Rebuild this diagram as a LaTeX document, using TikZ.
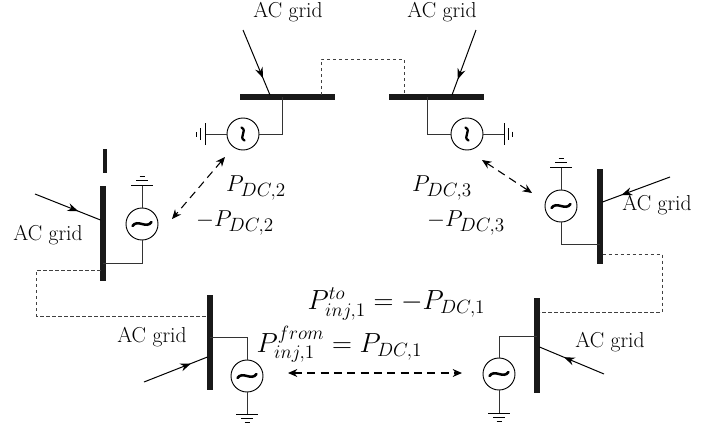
\documentclass[tikz,border=0pt]{standalone}
\usetikzlibrary{arrows.meta,decorations.markings}
\tikzset{
  bushbar/.style={draw=none,fill=black!90,inner sep=0pt,minimum width=95pt*0.75,minimum height=5.5pt*0.75},
  busvbar/.style={draw=none,fill=black!90,inner sep=0pt,minimum height=95pt*0.75,minimum width=5.5pt*0.75},
  source/.style={circle,draw=black,line width=0.7pt,fill=white,minimum size=32pt*0.75,inner sep=0pt},
  wire/.style={line width=0.75pt,draw=black!80},
  tie/.style={line width=0.6pt,draw=black!75,dash pattern=on 2.6pt off 1.9pt},
  flow/.style={line width=0.8pt,dash pattern=on 6pt off 4pt,{Stealth[length=7pt,width=6pt]}-{Stealth[length=7pt,width=6pt]}},
  feed/.style={line width=0.75pt,postaction={decorate},decoration={markings,mark=at position #1 with {\arrow{Stealth[length=8pt,width=6pt]}}}},
  lab/.style={inner sep=0pt,font=\fontsize{16.2}{18}\selectfont},
  mlab/.style={inner sep=0pt,font=\fontsize{19}{22}\selectfont},
  mlabb/.style={inner sep=0pt,font=\fontsize{19.8}{22}\selectfont},
  earth/.pic={
    \draw[line width=0.7pt] (-11,0)--(11,0);
    \draw[line width=0.6pt] (-6,-4.5)--(6,-4.5);
    \draw[line width=0.6pt] (-2.5,-8.5)--(2.5,-8.5);
  },
  wavebig/.pic={
    \draw[line width=1.9pt,line cap=round] (-9.5,2) .. controls (-4.5,-5.5) and (4.5,5.5) .. (9.5,-2);
  },
  wavesmall/.pic={
    \draw[line width=1.7pt,line cap=round] (-6.5,1.5) .. controls (-3,-5) and (3,5) .. (6.5,-1.5);
  }
}
\begin{document}
\begin{tikzpicture}[x=0.75pt,y=-0.75pt]
\useasboundingbox (0,0) rectangle (719,429);
% buses
\node[bushbar] (busA) at (287.5,97) {};
\node[bushbar] (busB) at (436.5,97) {};
\node[busvbar] (busC) at (103,233) {};
\node[busvbar] (busD) at (600,216) {};
\node[busvbar] (busE) at (210,342) {};
\node[busvbar] (busF) at (537,345) {};
\node[fill=black!90,inner sep=0pt,minimum width=2.6pt,minimum height=18pt] (stub) at (105,161) {};
% sources
\node[source] (srcA) at (243,134) {};
\node[source] (srcB) at (467,134) {};
\node[source] (srcC) at (142,224) {};
\node[source] (srcD) at (561,206) {};
\node[source] (srcE) at (247,376) {};
\node[source] (srcF) at (499,374) {};
\pic[rotate=90] at (srcA) {wavesmall};
\pic[rotate=90] at (srcB) {wavesmall};
\pic at (srcC) {wavebig};
\pic at (srcD) {wavebig};
\pic at (srcE) {wavebig};
\pic at (srcF) {wavebig};
% grounds
\coordinate (gA) at (205,134); \coordinate (gB) at (504,134);
\coordinate (gC) at (142,185); \coordinate (gD) at (561,167);
\coordinate (gE) at (247,414); \coordinate (gF) at (499,413);
\draw[wire] (srcA) -- (gA); \pic[rotate=90] at (gA) {earth};
\draw[wire] (srcB) -- (gB); \pic[rotate=-90] at (gB) {earth};
\draw[wire] (srcC) -- (gC); \pic at (gC) {earth};
\draw[wire] (srcD) -- (gD); \pic at (gD) {earth};
\draw[wire] (srcE) -- (gE); \pic[yscale=-1] at (gE) {earth};
\draw[wire] (srcF) -- (gF); \pic[yscale=-1] at (gF) {earth};
% bus to source
\coordinate (wA) at (282,97); \coordinate (wB) at (427,97);
\coordinate (wC) at (103,263); \coordinate (wD) at (600,244);
\coordinate (wE) at (210,337); \coordinate (wF) at (537,336);
\draw[wire] (wA) |- (srcA);
\draw[wire] (wB) |- (srcB);
\draw[wire] (wC) -| (srcC);
\draw[wire] (wD) -| (srcD);
\draw[wire] (wE) -| (srcE);
\draw[wire] (wF) -| (srcF);
% DC ties
\coordinate (tA) at (321,95); \coordinate (tB) at (404,95);
\coordinate (tC) at (100.5,270); \coordinate (tE) at (207.5,316);
\coordinate (tD) at (602.5,254); \coordinate (tF) at (539.5,312);
\draw[tie] (tA) -- (321,59) -- (404,59) -- (tB);
\draw[tie] (tC) -- (36.5,270) -- (36.5,316) -- (tE);
\draw[tie] (tD) -- (662,254) -- (662,312) -- (tF);
% AC feeders
\coordinate (aA) at (243,30); \coordinate (bA) at (270,95);
\coordinate (aB) at (476,30); \coordinate (bB) at (452,95);
\coordinate (aC) at (35,194); \coordinate (bC) at (100.5,220);
\coordinate (aD) at (670,177); \coordinate (bD) at (602.5,202);
\coordinate (aE) at (144,382); \coordinate (bE) at (207.5,357);
\coordinate (aF) at (604,374); \coordinate (bF) at (539.5,347);
\draw[feed=0.74] (aA) -- (bA);
\draw[feed=0.76] (aB) -- (bB);
\draw[feed=0.66] (aC) -- (bC);
\draw[feed=0.72] (aD) -- (bD);
\draw[feed=0.74] (aE) -- (bE);
\draw[feed=0.62] (aF) -- (bF);
% power-flow arrows
\coordinate (fA1) at (225,157); \coordinate (fA2) at (172,219);
\coordinate (fB1) at (482,160); \coordinate (fB2) at (532,193);
\coordinate (fC1) at (288,373); \coordinate (fC2) at (462,373);
\draw[flow] (fA1) -- (fA2);
\draw[flow] (fB1) -- (fB2);
\draw[flow] (fC1) -- (fC2);
% labels
\node[lab] (l1) at (288,12) {AC grid};
\node[lab] (l2) at (442,12) {AC grid};
\node[lab] (l3) at (48,235) {AC grid};
\node[lab] (l4) at (152,337) {AC grid};
\node[lab] (l5) at (657,205) {AC grid};
\node[lab] (l6) at (610,342) {AC grid};
\node[mlab] (p2) at (256,188) {$P_{DC,2}$};
\node[mlab] (m2) at (235,223) {$-P_{DC,2}$};
\node[mlab] (p3) at (442,188) {$P_{DC,3}$};
\node[mlab] (m3) at (466,223) {$-P_{DC,3}$};
\node[mlabb] (pto) at (396.5,304) {$P_{inj,1}^{to}=-P_{DC,1}$};
\node[mlabb] (pfr) at (339.5,344) {$P_{inj,1}^{from}=P_{DC,1}$};
\end{tikzpicture}
\end{document}
